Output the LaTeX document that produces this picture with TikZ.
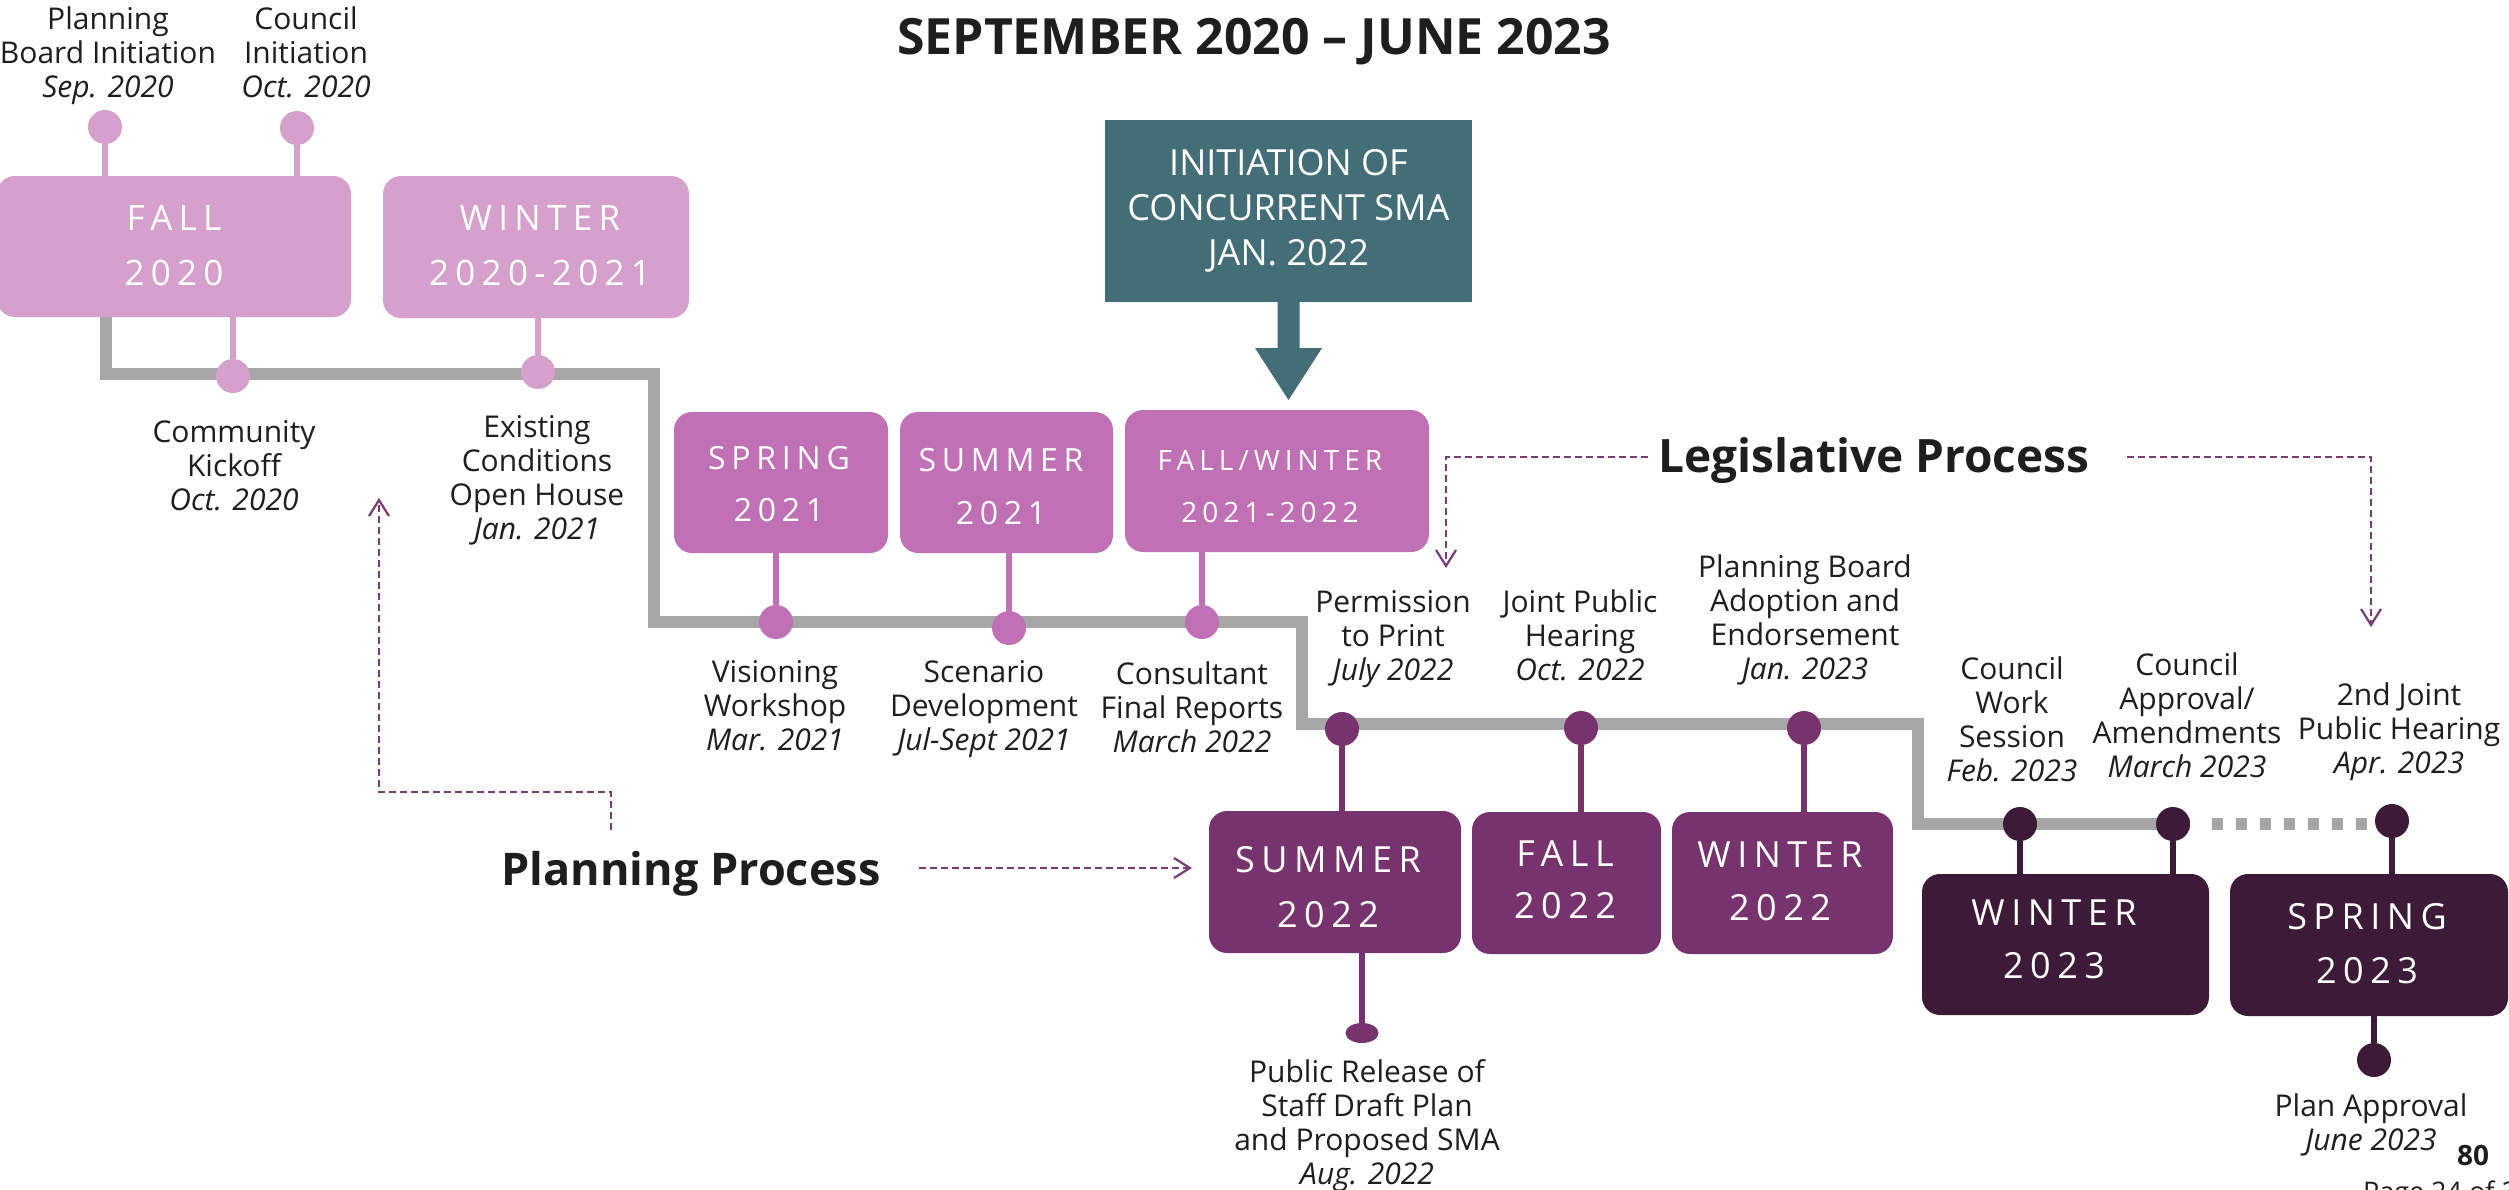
\documentclass[tikz,border=0pt]{standalone}
\usepackage{fontspec}
\setmainfont{Open Sans}
\newfontfamily\seasonfont{Open Sans}[LetterSpace=18]
\usetikzlibrary{arrows.meta,calc,shapes.geometric}
\definecolor{pinkA}{HTML}{D6A0CD}
\definecolor{pinkB}{HTML}{C071B6}
\definecolor{purpC}{HTML}{77336D}
\definecolor{darkD}{HTML}{3D1A38}
\definecolor{grayline}{HTML}{A6A6A6}
\definecolor{tealc}{HTML}{436E77}
\definecolor{dashc}{HTML}{7B3B75}
\definecolor{txt}{HTML}{1E1E1E}
\tikzset{
  every node/.style={inner sep=0pt, outer sep=0pt},
  mainline/.style={draw=grayline, line width=12pt, line join=miter},
  sbox/.style={rectangle, fill=#1, rounded corners=18pt},
  stext/.style n args={2}{text=white, align=center, font=\seasonfont\fontsize{#1}{#2}\selectfont},
  stem/.style={draw=#1, line width=5.5pt},
  dot/.style={circle, fill=#1, minimum size=34pt},
  lbl/.style={align=center, anchor=north, text=txt, font=\fontsize{30}{34}\selectfont},
  head/.style={text=txt, anchor=base, font=\bfseries\fontsize{#1}{#1}\selectfont},
  conn/.style={draw=dashc, line width=2.2pt, dash pattern=on 7pt off 4pt, -{Straight Barb[length=16pt,width=20pt]}}
}
\begin{document}
\begin{tikzpicture}[x=1pt,y=-1pt]
\useasboundingbox (0,0) rectangle (2509,1189);
% ---------- title ----------
\node[head=50] (title) at (1254,54) {SEPTEMBER 2020 -- JUNE 2023};
% ---------- gray timeline ----------
\coordinate (g0) at (106,317);
\coordinate (g1) at (2190,824);
\coordinate (g2) at (2212,824);
\coordinate (g3) at (2376,824);
\draw[mainline] (g0) -- (106,374) -- (654,374) -- (654,622) -- (1302,622) -- (1302,724) -- (1918,724) -- (1918,824) -- (g1);
\draw[mainline, dash pattern=on 11pt off 13pt] (g2) -- (g3);
% ---------- season boxes ----------
\node[sbox=pinkA, minimum width=354pt, minimum height=141pt] (fall20) at (174,246.5) {};
\node[sbox=pinkA, minimum width=306pt, minimum height=142pt] (win20) at (536,247) {};
\node[sbox=pinkB, minimum width=214pt, minimum height=141pt] (spr21) at (781,482.5) {};
\node[sbox=pinkB, minimum width=213pt, minimum height=141pt] (sum21) at (1006.5,482.5) {};
\node[sbox=pinkB, minimum width=304pt, minimum height=142pt] (fw21) at (1277,481) {};
\node[sbox=purpC, minimum width=252pt, minimum height=142pt] (sum22) at (1335,882) {};
\node[sbox=purpC, minimum width=189pt, minimum height=142pt] (fall22) at (1566.5,883) {};
\node[sbox=purpC, minimum width=221pt, minimum height=142pt] (win22) at (1782.5,883) {};
\node[sbox=darkD, minimum width=287pt, minimum height=141pt] (win23) at (2065.5,944.5) {};
\node[sbox=darkD, minimum width=278pt, minimum height=142pt] (spr23) at (2369,945) {};
\node[stext={35}{55}] (fall20t) at (174,245.5) {FALL\\2020};
\node[stext={35}{55}] (win20t) at (540,245.5) {WINTER\\2020-2021};
\node[stext={32}{52}] (spr21t) at (779,484) {SPRING\\2021};
\node[stext={32}{53}] (sum21t) at (1001,486.5) {SUMMER\\2021};
\node[stext={28}{52}] (fw21t) at (1270,487) {FALL/WINTER\\2021-2022};
\node[stext={36}{55}] (sum22t) at (1328,887.5) {SUMMER\\2022};
\node[stext={36}{52}] (fall22t) at (1565,880) {FALL\\2022};
\node[stext={36}{53}] (win22t) at (1780,881.5) {WINTER\\2022};
\node[stext={36}{53}] (win23t) at (2054,939.5) {WINTER\\2023};
\node[stext={36}{54}] (spr23t) at (2367,944) {SPRING\\2023};
% ---------- milestone dots ----------
\node[dot=pinkA] (dpbi) at (105,127) {};
\node[dot=pinkA] (dci) at (297,128) {};
\node[dot=pinkA] (dck) at (233,376) {};
\node[dot=pinkA] (dec) at (538,372) {};
\node[dot=pinkB] (dvw) at (776,622) {};
\node[dot=pinkB] (dsd) at (1009,628) {};
\node[dot=pinkB] (dcf) at (1202,622) {};
\node[dot=purpC] (dpp) at (1342,729) {};
\node[dot=purpC] (djp) at (1581,728) {};
\node[dot=purpC] (dpba) at (1804,728) {};
\node[ellipse, fill=purpC, minimum width=33pt, minimum height=20pt] (dpr) at (1362,1033) {};
\node[dot=darkD] (dcws) at (2020,824) {};
\node[dot=darkD] (dca) at (2173,824) {};
\node[dot=darkD] (d2j) at (2392,821) {};
\node[dot=darkD] (dpa) at (2374,1060) {};
% ---------- stems ----------
\draw[stem=pinkA] (dpbi) -- (dpbi |- fall20.north);
\draw[stem=pinkA] (dci) -- (dci |- fall20.north);
\draw[stem=pinkA] (dck) -- (dck |- fall20.south);
\draw[stem=pinkA] (dec) -- (dec |- win20.south);
\draw[stem=pinkB] (dvw) -- (dvw |- spr21.south);
\draw[stem=pinkB] (dsd) -- (dsd |- sum21.south);
\draw[stem=pinkB] (dcf) -- (dcf |- fw21.south);
\draw[stem=purpC] (dpp) -- (dpp |- sum22.north);
\draw[stem=purpC] (djp) -- (djp |- fall22.north);
\draw[stem=purpC] (dpba) -- (dpba |- win22.north);
\draw[stem=purpC] (dpr) -- (dpr |- sum22.south);
\draw[stem=darkD] (dcws) -- (dcws |- win23.north);
\draw[stem=darkD] (dca) -- (dca |- win23.north);
\draw[stem=darkD] (d2j) -- (d2j |- spr23.north);
\draw[stem=darkD] (dpa) -- (dpa |- spr23.south);
% ---------- labels ----------
\node[lbl] (lpbi) at (108,7) {Planning\\Board Initiation\\\textit{Sep. 2020}};
\node[lbl] (lci) at (306,7) {Council\\Initiation\\\textit{Oct. 2020}};
\node[lbl] (lck) at (234,420) {Community\\Kickoff\\\textit{Oct. 2020}};
\node[lbl] (lec) at (537,415) {Existing\\Conditions\\Open House\\\textit{Jan. 2021}};
\node[lbl] (lvw) at (775,660) {Visioning\\Workshop\\\textit{Mar. 2021}};
\node[lbl] (lsd) at (984,660) {Scenario\\Development\\\textit{Jul-Sept 2021}};
\node[lbl] (lcf) at (1192,662) {Consultant\\Final Reports\\\textit{March 2022}};
\node[lbl] (lpp) at (1393,590) {Permission\\to Print\\\textit{July 2022}};
\node[lbl] (ljp) at (1580,590) {Joint Public\\Hearing\\\textit{Oct. 2022}};
\node[lbl] (lpba) at (1805,555) {Planning Board\\Adoption and\\Endorsement\\\textit{Jan. 2023}};
\node[lbl] (lpr) at (1367,1060) {Public Release of\\Staff Draft Plan\\and Proposed SMA\\\textit{Aug. 2022}};
\node[lbl] (lcws) at (2012,657) {Council\\Work\\Session\\\textit{Feb. 2023}};
\node[lbl] (lca) at (2187,653) {Council\\Approval/\\Amendments\\\textit{March 2023}};
\node[lbl] (l2j) at (2399,683) {2nd Joint\\Public Hearing\\\textit{Apr. 2023}};
\node[lbl] (lpa) at (2371,1094) {Plan Approval\\\textit{June 2023}};
% ---------- concurrent SMA callout ----------
\node[fill=tealc, minimum width=367pt, minimum height=182pt, text=white, align=center, font=\fontsize{36}{45}\selectfont] (init) at (1288.5,211) {INITIATION OF\\CONCURRENT SMA\\JAN. 2022};
\fill[tealc] ($(init.south)+(-11,0)$) -- ($(init.south)+(-11,46)$) -- ($(init.south)+(-33.5,46)$) -- ($(init.south)+(0,98)$) -- ($(init.south)+(33.5,46)$) -- ($(init.south)+(11,46)$) -- ($(init.south)+(11,0)$) -- cycle;
% ---------- process headings and dashed pointers ----------
\node[head=45] (plan) at (691,885) {Planning Process};
\node[head=46] (legis) at (1874,472) {Legislative Process};
\coordinate (pp1) at (611,830);
\coordinate (pp2) at (379,498);
\coordinate (pp3) at (919,868);
\draw[conn] (pp1) -- ++(0,-38) -| (pp2);
\draw[conn, shorten >=17pt] (pp3) -- (pp3 -| sum22.west);
\coordinate (lp1) at (1648,457);
\coordinate (lp2) at (1446,568);
\coordinate (lp3) at (2127,457);
\coordinate (lp4) at (2371,627);
\draw[conn] (lp1) -| (lp2);
\draw[conn] (lp3) -| (lp4);
% ---------- page marks ----------
\node[anchor=base west, text=txt, font=\bfseries\fontsize{28}{28}\selectfont] (pnum) at (2457,1165) {80};
\node[anchor=base west, text=txt, font=\fontsize{27}{27}\selectfont] (pg) at (2363,1201) {Page 24 of 29};
\end{tikzpicture}
\end{document}
